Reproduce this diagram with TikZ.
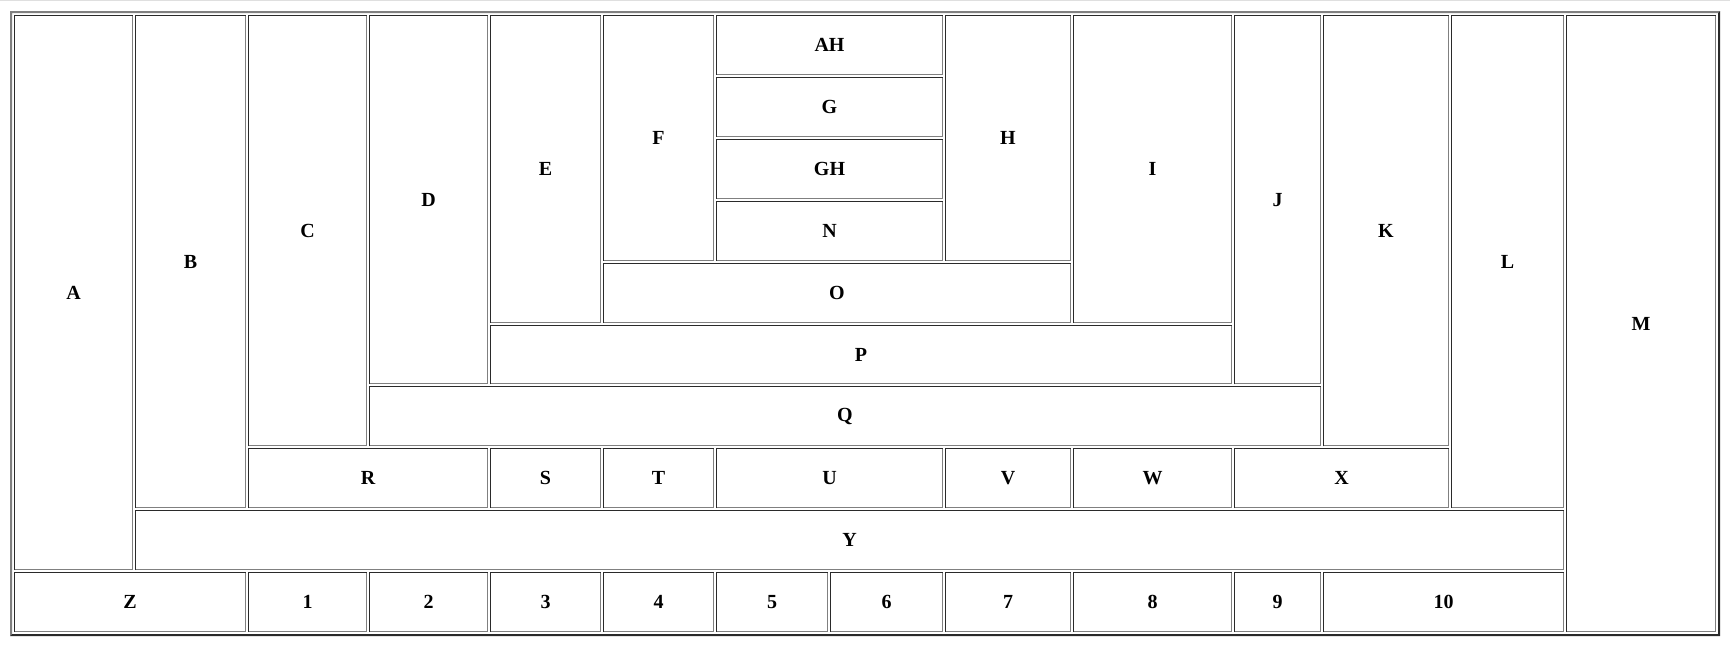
\documentclass[tikz,border=0pt]{standalone}
\usepackage{fontspec}
\setmainfont{Liberation Serif}
\usepackage{tikz}
\usetikzlibrary{calc}

\definecolor{celldark}{HTML}{2A2A2A}
\definecolor{cellgray}{HTML}{808080}

\tikzset{
  celltop/.style={draw=celldark,line width=0.5pt},
  cellbot/.style={draw=cellgray,line width=0.5pt},
  celltext/.style={font=\fontsize{10}{12}\selectfont\bfseries,inner sep=0pt}
}

% column left edges (px)
\def\cA{14}\def\cB{135}\def\cC{248}\def\cD{369}\def\cE{490}\def\cF{603}
\def\cG{716}\def\cGb{830}\def\cH{945}\def\cI{1073}\def\cJ{1234}
\def\cK{1323}\def\cL{1451}\def\cM{1566}\def\cEnd{1718}

\begin{document}
\begin{tikzpicture}[x=0.5pt,y=-0.5pt]
  \useasboundingbox (0,0) rectangle (1730,650);
  \fill[gray!25] (0,0) rectangle (1730,1);
  % outer table border
  \fill[cellgray] (10,11) -- (1720,11) -- (1718,13) -- (12,13) -- (12,634) -- (10,636) -- cycle;
  \fill[celldark] (1720,11) -- (1720,636) -- (10,636) -- (12,634) -- (1718,634) -- (1718,13) -- cycle;
  % cells: name/label/left/next left/first row/row after
  \foreach \nm/\lb/\xa/\xb/\ra/\rb in {
      A/A/\cA/\cB/0/9, B/B/\cB/\cC/0/8, C/C/\cC/\cD/0/7, D/D/\cD/\cE/0/6,
      E/E/\cE/\cF/0/5, F/F/\cF/\cG/0/4,
      AH/AH/\cG/\cH/0/1, G/G/\cG/\cH/1/2, GH/GH/\cG/\cH/2/3, N/N/\cG/\cH/3/4,
      H/H/\cH/\cI/0/4, I/I/\cI/\cJ/0/5, J/J/\cJ/\cK/0/6, K/K/\cK/\cL/0/7,
      L/L/\cL/\cM/0/8, M/M/\cM/\cEnd/0/10,
      O/O/\cF/\cI/4/5, P/P/\cE/\cJ/5/6, Q/Q/\cD/\cK/6/7,
      R/R/\cC/\cE/7/8, S/S/\cE/\cF/7/8, T/T/\cF/\cG/7/8, U/U/\cG/\cH/7/8,
      V/V/\cH/\cI/7/8, W/W/\cI/\cJ/7/8, X/X/\cJ/\cL/7/8,
      Y/Y/\cB/\cM/8/9,
      Z/Z/\cA/\cC/9/10, n1/1/\cC/\cD/9/10, n2/2/\cD/\cE/9/10, n3/3/\cE/\cF/9/10,
      n4/4/\cF/\cG/9/10, n5/5/\cG/\cGb/9/10, n6/6/\cGb/\cH/9/10, n7/7/\cH/\cI/9/10,
      n8/8/\cI/\cJ/9/10, n9/9/\cJ/\cK/9/10, n10/10/\cK/\cM/9/10} {
    \pgfmathsetmacro{\xl}{\xa+0.5}
    \pgfmathsetmacro{\xr}{\xb-2.5}
    \pgfmathsetmacro{\yt}{15+61.9*\ra+0.5}
    \pgfmathsetmacro{\yb}{15+61.9*\rb-2.5}
    \draw[celltop] (\xl,\yb+0.5) -- (\xl,\yt) -- (\xr+0.5,\yt);
    \draw[cellbot] (\xl+0.5,\yb) -- (\xr,\yb) -- (\xr,\yt+0.5);
    \node[celltext] (\nm) at ({(\xl+\xr)/2},{(\yt+\yb)/2}) {\lb};
  }
\end{tikzpicture}
\end{document}
